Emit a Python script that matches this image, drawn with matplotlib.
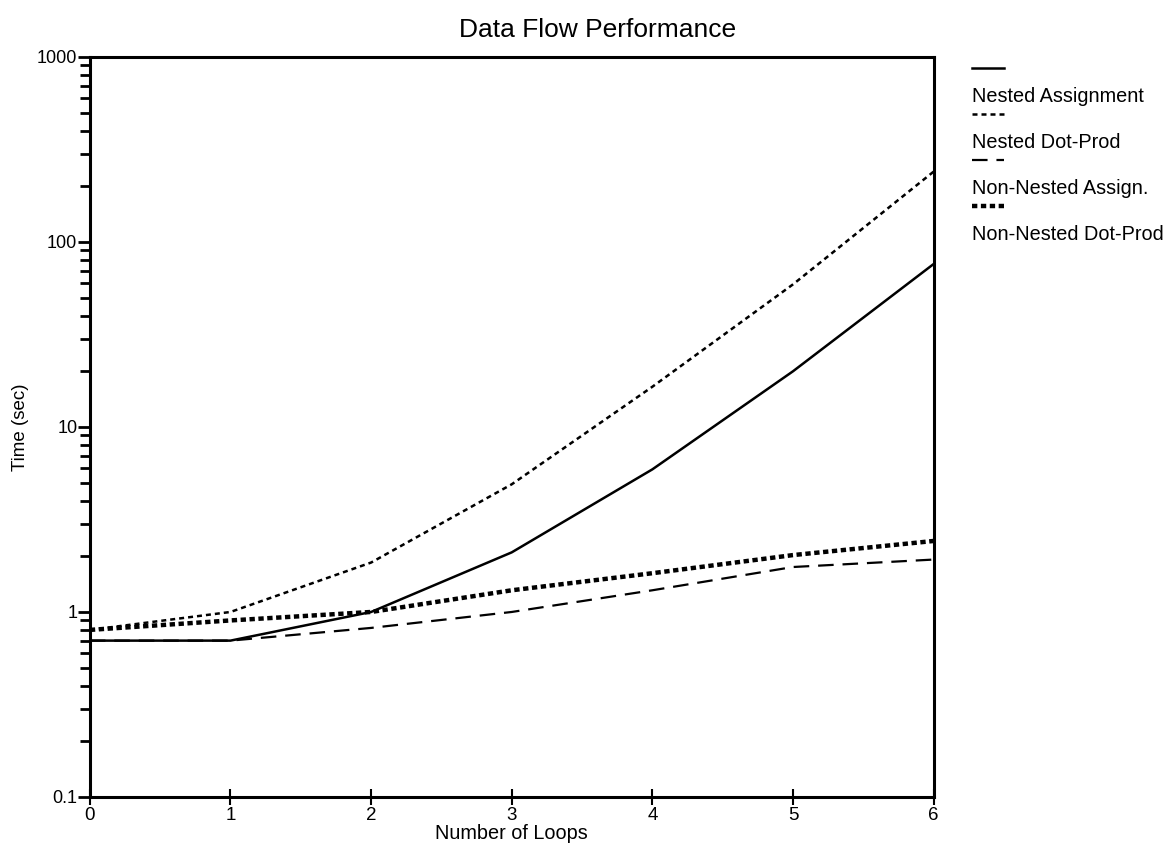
import numpy as np
import matplotlib
matplotlib.use("Agg")
import matplotlib.pyplot as plt
from matplotlib.lines import Line2D

plt.rcParams['font.family'] = ['Liberation Sans', 'DejaVu Sans']

loops = [0, 1, 2, 3, 4, 5, 6]
nested_assign = [0.70, 0.70, 1.0, 2.1, 5.9, 20.0, 76.0]
nested_dot = [0.80, 1.0, 1.85, 4.9, 16.5, 59.0, 240.0]
nonnested_assign = [0.70, 0.70, 0.82, 1.0, 1.31, 1.75, 1.92]
nonnested_dot = [0.80, 0.90, 1.0, 1.31, 1.62, 2.03, 2.42]
labels = ['Nested Assignment', 'Nested Dot-Prod', 'Non-Nested Assign.', 'Non-Nested Dot-Prod']

# line styles for each series: (linewidth, dashes)
styles = [(1.8, None), (1.8, (2.0, 1.6)), (1.6, (7, 4)), (3.2, (1.2, 0.8))]
series = [nested_assign, nested_dot, nonnested_assign, nonnested_dot]

fig = plt.figure(figsize=(11.67, 8.52), dpi=100)
ax = fig.add_axes([0.077, 0.0646, 0.723, 0.8685])

for vals, (lw, dash) in zip(series, styles):
    line, = ax.plot(loops, vals, color='black', lw=lw, solid_capstyle='butt')
    if dash is not None:
        line.set_dashes(dash)
        line.set_dash_capstyle('butt')

ax.set_yscale('log')
ax.set_ylim(0.1, 1000)
ax.set_xlim(0, 6)
ax.set_xticks(loops)
ax.set_yticks([0.1, 1, 10, 100, 1000])
ax.set_yticklabels(['0.1', '1', '10', '100', '1000'])

for s in ax.spines.values():
    s.set_linewidth(2.2)

ax.tick_params(axis='y', which='major', direction='out', length=9, width=2, labelsize=13, pad=0)
ax.tick_params(axis='y', which='minor', direction='out', length=7, width=2)
ax.tick_params(axis='x', which='major', direction='inout', length=12, width=1.5, labelsize=13.5, pad=1)

# title sits a bit right of the axes centre in the original
fig.text(0.512, 0.965, 'Data Flow Performance', fontsize=19, ha='center', va='center')
ax.set_xlabel('Number of Loops', fontsize=14.3, labelpad=0)
ax.set_ylabel('Time (sec)', fontsize=13.5, labelpad=6)

# legend: sample line above each label
x0 = 972 / 1167
for i, (lab, (lw, dash)) in enumerate(zip(labels, styles)):
    ly = 1 - (68 + i * 46) / 852
    ty = 1 - (96 + i * 46) / 852
    ln = Line2D([x0, x0 + 32 / 1167], [ly, ly], color='black', lw=lw, transform=fig.transFigure)
    if dash is not None:
        ln.set_dashes(dash)
    fig.add_artist(ln)
    fig.text(x0, ty, lab, fontsize=14.3, va='center', ha='left')

fig.savefig('out.png', dpi=100)
